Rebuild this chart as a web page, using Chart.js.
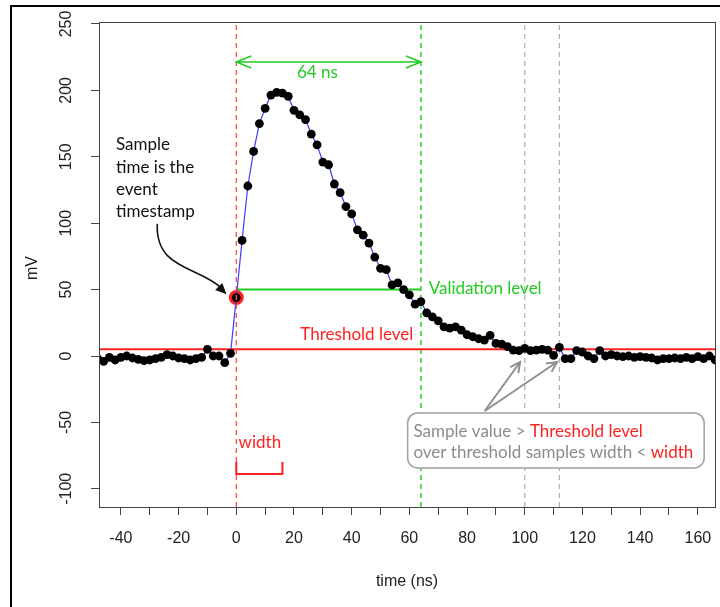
<!DOCTYPE html>
<html>
<head>
<meta charset="utf-8">
<script src="https://cdn.jsdelivr.net/npm/chart.js@4/dist/chart.umd.min.js"></script>
<style>
html,body{margin:0;padding:0;background:#fff;}
#wrap{width:720px;height:607px;position:relative;}
</style>
</head>
<body>
<div id="wrap"><canvas id="c" width="720" height="607"></canvas></div>
<script>
// ---- data ----
const times = [-48,-46,-44,-42,-40,-38,-36,-34,-32,-30,-28,-26,-24,-22,-20,-18,-16,-14,-12,-10,-8,-6,-4,-2,
  0,2,4,6,8,10,12,14,16,18,20,22,24,26,28,30,32,34,36,38,40,42,44,46,48,50,52,54,56,58,60,62,64,66,68,
  70,72,74,76,78,80,82,84,86,88,90,92,94,96,98,100,102,104,106,108,110,112,
  114,116,118,120,122,124,126,128,130,132,134,136,138,140,142,144,146,148,150,152,154,156,158,160,162,164,166];
const millivolts = [-2,-4,-1,-3,-1,0,-1.5,-2.5,-3.5,-3,-2,-1,1,0,-1.5,-2,-3,-2,-1,5,0,0,-5,2,
  44,87,128,154,175,186.5,196.5,198.5,198,195.5,185,181.5,178,167,159,146,144,129.5,123,112.5,107,95,91,85,74.5,66,65,53.5,55,50,46,39,41,32.5,29.5,
  26.5,22,21,22,19.5,16,14.5,13,12,15.5,9.5,9,7,4.5,4,5.8,4,4.5,5,4.5,0.5,6.5,
  -2,-2,4,3,0,-2,4,0,1,0,-0.5,0,-1,-0.5,-1,-1.5,-3,-2,-2,-1.5,-2,-1,-2,-0.5,-2,0,-3];
const xTickValues = [-40,-30,-20,-10,0,10,20,30,40,50,60,70,80,90,100,110,120,130,140,150,160];
const xTickLabels = [-40,-20,0,20,40,60,80,100,120,140,160];
const yTickValues = [-100,-50,0,50,100,150,200,250];
const xRange = [-47.6, 166.3];
const yRange = [-113.7, 251.5];
const thresholdLevel = 5;
const validationLevel = 50;
const eventTime = 0;
const eventValue = 44;
const windowEnd = 64;
const markerTimes = [100, 112];
const widthSpan = [0, 16];

const RED = '#ff2020', GREEN = '#22cc22', GRAY = '#999999';
const points = times.map((t,i)=>({x:t, y:millivolts[i]}));
const vline = (t)=>[{x:t,y:yRange[0]},{x:t,y:yRange[1]}];

const annot = {
  id:'annot',
  beforeDraw(chart){
    const c = chart.ctx;
    c.save();
    c.fillStyle = '#fff'; c.fillRect(0,0,chart.width,chart.height);
    c.strokeStyle = '#000'; c.lineWidth = 2;
    c.beginPath(); c.moveTo(11,607); c.lineTo(11,6); c.lineTo(720,6); c.stroke();
    c.restore();
  },
  afterDatasetsDraw(chart){
    const c = chart.ctx, xs = chart.scales.x, ys = chart.scales.y;
    const X = v=>xs.getPixelForValue(v), Y = v=>ys.getPixelForValue(v);
    c.save();
    c.font = '17px Lato';
    c.textBaseline = 'middle';
    // 64 ns arrow
    c.strokeStyle = GREEN; c.lineWidth = 1.5;
    const ay = Y(221.4), ax0 = X(eventTime), ax1 = X(windowEnd);
    c.beginPath(); c.moveTo(ax0,ay); c.lineTo(ax1,ay);
    c.moveTo(ax0+15,ay-6); c.lineTo(ax0,ay); c.lineTo(ax0+15,ay+6);
    c.moveTo(ax1-15,ay-6); c.lineTo(ax1,ay); c.lineTo(ax1-15,ay+6);
    c.stroke();
    c.fillStyle = GREEN; c.textAlign = 'left';
    c.fillText('64 ns', X(21), Y(213.5));
    c.fillText('Validation level', X(66.7), Y(51));
    c.fillStyle = RED;
    c.fillText('Threshold level', X(22.2), Y(16.5));
    c.fillText('width', X(0.8), Y(-65.5));
    // width bracket
    c.strokeStyle = RED; c.lineWidth = 2;
    c.beginPath();
    c.moveTo(X(widthSpan[0]), Y(-79.8)); c.lineTo(X(widthSpan[0]), Y(-88.9));
    c.lineTo(X(widthSpan[1]), Y(-88.9)); c.lineTo(X(widthSpan[1]), Y(-79.8));
    c.stroke();
    // sample time text
    c.fillStyle = '#111';
    ['Sample','time is the','event','timestamp'].forEach((s,i)=>{
      c.fillText(s, X(-41.7), Y(158.9 - i*16.6));
    });
    // curved arrow
    const sx = X(-27.4), sy = Y(99.5), ex = X(-3.4), ey = Y(46.5);
    c.strokeStyle = '#111'; c.lineWidth = 1.6;
    c.beginPath(); c.moveTo(sx,sy);
    c.bezierCurveTo(sx-2, sy+46, ex-28, ey-28, ex-5, ey-6);
    c.stroke();
    const ang = Math.atan2(28, 28);
    c.fillStyle = '#111';
    c.beginPath();
    c.moveTo(ex,ey);
    c.lineTo(ex-11*Math.cos(ang)+5*Math.sin(ang), ey-11*Math.sin(ang)-5*Math.cos(ang));
    c.lineTo(ex-11*Math.cos(ang)-5*Math.sin(ang), ey-11*Math.sin(ang)+5*Math.cos(ang));
    c.closePath(); c.fill();
    // gray arrows
    c.strokeStyle = '#909090'; c.lineWidth = 2;
    const gx = X(86.1), gy = Y(-41.4);
    [98.4, 111.2].forEach(t=>{
      const tx = X(t), ty = Y(-4.5);
      const a = Math.atan2(ty-gy, tx-gx);
      c.beginPath(); c.moveTo(gx,gy); c.lineTo(tx,ty);
      c.moveTo(tx-10*Math.cos(a)+5*Math.sin(a), ty-10*Math.sin(a)-5*Math.cos(a));
      c.lineTo(tx,ty);
      c.lineTo(tx-10*Math.cos(a)-5*Math.sin(a), ty-10*Math.sin(a)+5*Math.cos(a));
      c.stroke();
    });
    // rounded box
    const bx0 = X(59.4), bx1 = X(162.2), by0 = Y(-42.9), by1 = Y(-84.3), r = 10;
    c.fillStyle = '#fff'; c.strokeStyle = '#a0a0a0'; c.lineWidth = 1.5;
    c.beginPath();
    c.moveTo(bx0+r,by0); c.lineTo(bx1-r,by0); c.arcTo(bx1,by0,bx1,by0+r,r);
    c.lineTo(bx1,by1-r); c.arcTo(bx1,by1,bx1-r,by1,r);
    c.lineTo(bx0+r,by1); c.arcTo(bx0,by1,bx0,by1-r,r);
    c.lineTo(bx0,by0+r); c.arcTo(bx0,by0,bx0+r,by0,r);
    c.closePath(); c.fill(); c.stroke();
    const tx0 = X(61.4);
    let s1 = 'Sample value > ';
    c.fillStyle = '#8c8c8c'; c.fillText(s1, tx0, Y(-57.2));
    c.fillStyle = RED; c.fillText('Threshold level', tx0 + c.measureText(s1).width, Y(-57.2));
    let s2 = 'over threshold samples width < ';
    c.fillStyle = '#8c8c8c'; c.fillText(s2, tx0, Y(-73));
    c.fillStyle = RED; c.fillText('width', tx0 + c.measureText(s2).width, Y(-73));
    c.restore();
  },
  afterDraw(chart){
    const c = chart.ctx, a = chart.chartArea, ys = chart.scales.y;
    c.save();
    c.strokeStyle = '#444'; c.lineWidth = 1;
    c.strokeRect(a.left+0.5, a.top+0.5, a.right-a.left-1, a.bottom-a.top);
    c.fillStyle = '#222';
    c.font = '16px "Liberation Sans"';
    c.textAlign = 'center'; c.textBaseline = 'middle';
    yTickValues.forEach(v=>{
      c.save(); c.translate(67, ys.getPixelForValue(v)); c.rotate(-Math.PI/2);
      c.fillText(String(v),0,0); c.restore();
    });
    c.save(); c.translate(33, 268); c.rotate(-Math.PI/2); c.fillText('mV',0,0); c.restore();
    c.fillText('time (ns)', 407, 582);
    c.restore();
  }
};

new Chart(document.getElementById('c'), {
  type:'scatter',
  data:{datasets:[
    {data:points, showLine:true, borderColor:'#3a3aff', borderWidth:1.2, pointRadius:4.4,
     pointBackgroundColor:'#000', pointBorderWidth:0, pointHoverRadius:4.4, order:1},
    {data:[{x:eventTime,y:eventValue}], pointRadius:7.5, pointBackgroundColor:RED, pointBorderWidth:0, order:2},
    {data:[{x:xRange[0],y:thresholdLevel},{x:xRange[1],y:thresholdLevel}], showLine:true, borderColor:RED, borderWidth:2, pointRadius:0, order:3},
    {data:[{x:eventTime,y:validationLevel},{x:windowEnd,y:validationLevel}], showLine:true, borderColor:GREEN, borderWidth:2, pointRadius:0, order:3},
    {data:vline(eventTime), showLine:true, borderColor:'#ff4d4d', borderWidth:1.3, borderDash:[5,4], pointRadius:0, order:0},
    {data:vline(windowEnd), showLine:true, borderColor:'#33cc33', borderWidth:1.5, borderDash:[5,4], pointRadius:0, order:4},
    {data:vline(markerTimes[0]), showLine:true, borderColor:'#b0b0b0', borderWidth:1.2, borderDash:[5,4], pointRadius:0, order:4},
    {data:vline(markerTimes[1]), showLine:true, borderColor:'#b0b0b0', borderWidth:1.2, borderDash:[5,4], pointRadius:0, order:4}
  ]},
  options:{
    responsive:false, animation:false, events:[],
    layout:{autoPadding:false, padding:{top:22,right:4,left:0,bottom:0}},
    plugins:{legend:{display:false}, tooltip:{enabled:false}},
    scales:{
      x:{type:'linear', min:xRange[0], max:xRange[1],
         afterBuildTicks:s=>{s.ticks = xTickValues.map(v=>({value:v}));},
         afterFit:s=>{s.height = 100; s.paddingLeft = 0; s.paddingRight = 0;},
         ticks:{autoSkip:false, maxRotation:0, minRotation:0, padding:14, color:'#222',
                font:{family:'Liberation Sans', size:16},
                callback:v=>xTickLabels.includes(v)?String(v):''},
         grid:{display:true, drawOnChartArea:false, drawTicks:true, tickLength:8, tickColor:'#444', color:'#444'},
         border:{display:false}},
      y:{type:'linear', min:yRange[0], max:yRange[1],
         afterBuildTicks:s=>{s.ticks = yTickValues.map(v=>({value:v}));},
         afterFit:s=>{s.width = 99; s.paddingTop = 0; s.paddingBottom = 0;},
         ticks:{display:false},
         grid:{display:true, drawOnChartArea:false, drawTicks:true, tickLength:8, tickColor:'#444', color:'#444'},
         border:{display:false}}
    }
  },
  plugins:[annot]
});
</script>
</body>
</html>
